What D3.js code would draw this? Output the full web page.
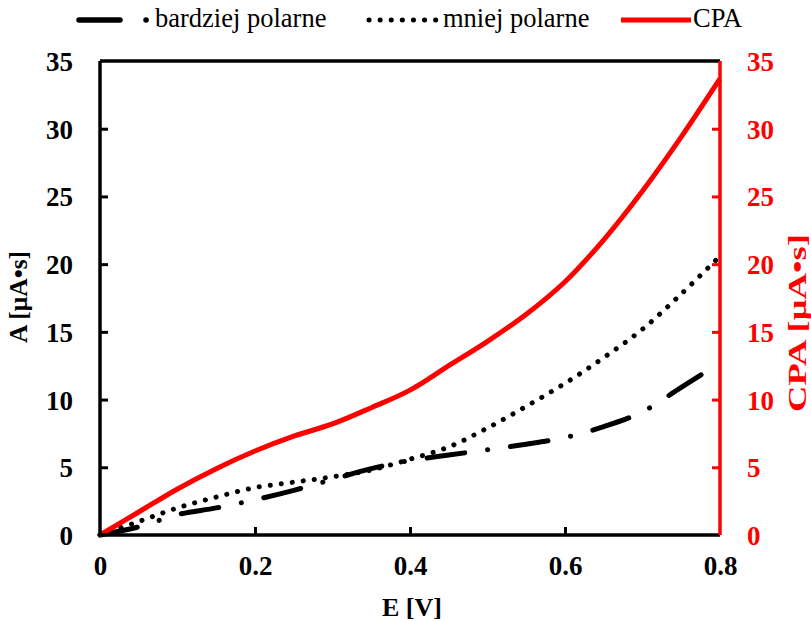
<!DOCTYPE html>
<html><head><meta charset="utf-8">
<script src="https://cdn.jsdelivr.net/npm/d3@7"></script>
<style>body{margin:0;background:#fff}svg{display:block}
svg text{font-family:"Liberation Serif","Times New Roman",Times,"DejaVu Serif",serif !important;}
</style>
</head><body>
<svg id="c" width="811" height="621"></svg>
<script>
const E = [0,0.05,0.1,0.15,0.2,0.25,0.3,0.35,0.4,0.45,0.5,0.55,0.6,0.65,0.7,0.75,0.8];
const bardziej = [0,0.6,1.5,2.0,2.6,3.3,4.1,4.9,5.5,5.9,6.3,6.7,7.2,8.0,9.1,10.9,12.7];
const mniej = [0,1.0,2.0,2.8,3.5,3.9,4.3,4.8,5.6,6.5,7.9,9.5,11.2,13.1,15.2,17.8,20.6];
const cpa = [0,1.7,3.4,4.9,6.2,7.3,8.2,9.4,10.7,12.5,14.3,16.3,18.7,21.8,25.4,29.4,33.7];
const xTicks = [0,0.2,0.4,0.6,0.8];
const yTicks = [0,5,10,15,20,25,30,35];
const seriesNames = ['bardziej polarne','mniej polarne','CPA'];

const svg = d3.select('#c');
const L=100,R=720,T=61,B=535;
const x = d3.scaleLinear().domain([0,0.8]).range([L,R]);
const y = d3.scaleLinear().domain([0,35]).range([B,T]);
const y2 = d3.scaleLinear().domain([0,35]).range([B,T]);

// top border
svg.append('line').attr('x1',L).attr('x2',R).attr('y1',T).attr('y2',T).attr('stroke','#000').attr('stroke-width',3.5);

const line = (arr,sc)=>d3.line().x((d,i)=>x(E[i])).y(d=>sc(d)).curve(d3.curveCatmullRom.alpha(0.5))(arr);

svg.append('path').attr('d',line(bardziej,y)).attr('fill','none').attr('stroke','#000')
  .attr('stroke-width',5).attr('stroke-linecap','round').attr('stroke-dasharray','38 23 0.1 23');
svg.append('path').attr('d',line(mniej,y)).attr('fill','none').attr('stroke','#000')
  .attr('stroke-width',5).attr('stroke-linecap','round').attr('stroke-dasharray','0.1 11');
svg.append('path').attr('d',line(cpa,y2)).attr('fill','none').attr('stroke','#ff0000')
  .attr('stroke-width',5);

// axes
const gx = svg.append('g').attr('transform',`translate(0,${B})`)
  .call(d3.axisBottom(x).tickValues(xTicks).tickSize(-8).tickPadding(21).tickFormat(d=>d===0?'0':d3.format('.1f')(d)));
const gy = svg.append('g').attr('transform',`translate(${L},0)`)
  .call(d3.axisLeft(y).tickValues(yTicks).tickSize(-8).tickPadding(27));
const gy2 = svg.append('g').attr('transform',`translate(${R},0)`)
  .call(d3.axisRight(y2).tickValues(yTicks).tickSize(-8).tickPadding(27));
[gx,gy,gy2].forEach(g=>{
  g.attr('font-family',null).attr('font-size',null);
  g.selectAll('path.domain').attr('stroke-width',3.5);
  g.selectAll('.tick line').attr('stroke-width',3);
  g.selectAll('text').style('font-size','27px').style('font-weight','bold');
});
gx.selectAll('path.domain').attr('d',`M${L},0H${R}`);
gy.selectAll('path.domain').attr('d',`M0,${B}V${T}`);
gy2.selectAll('path.domain').attr('d',`M0,${B}V${T}`);
gx.selectAll('.tick').filter(d=>d===0||d===0.8).select('line').remove();
gy.selectAll('.tick').filter(d=>d===0||d===35).select('line').remove();
gy2.selectAll('.tick').filter(d=>d===0||d===35).select('line').remove();
gx.selectAll('path.domain,.tick line').attr('stroke','#000');
gx.selectAll('text').attr('fill','#000');
gy.selectAll('path.domain,.tick line').attr('stroke','#000');
gy.selectAll('text').attr('fill','#000').attr('dy','0.35em');
gy2.selectAll('path.domain,.tick line').attr('stroke','#ff0000');
gy2.selectAll('text').attr('fill','#ff0000').attr('dy','0.35em');

// axis titles
svg.append('text').attr('x',412).attr('y',616).attr('text-anchor','middle')
  .style('font-size','26px').style('font-weight','bold').text('E [V]');
svg.append('text').attr('transform',`translate(27,297) rotate(-90)`).attr('text-anchor','middle')
  .style('font-size','25.5px').style('font-weight','bold').text('A [μA•s]');
svg.append('text').attr('transform',`translate(806,323) rotate(-90)`).attr('text-anchor','middle')
  .attr('textLength',178).attr('lengthAdjust','spacingAndGlyphs')
  .attr('fill','#ff0000').style('font-size','26px').style('font-weight','bold').text('CPA [μA•s]');

// legend
const lg = svg.append('g');
const ly = 20, ty = 27;
lg.append('path').attr('d',`M79,${ly}H120 M146,${ly}H146.1`).attr('stroke','#000').attr('stroke-width',5.5).attr('stroke-linecap','round');
lg.append('text').attr('x',155).attr('y',ty).style('font-size','26.5px').text(seriesNames[0]);
lg.append('path').attr('d',`M369,${ly}H436`).attr('stroke','#000').attr('stroke-width',5).attr('stroke-linecap','round').attr('stroke-dasharray','0.1 11');
lg.append('text').attr('x',443).attr('y',ty).style('font-size','26.5px').text(seriesNames[1]);
lg.append('path').attr('d',`M621,${ly}H691`).attr('stroke','#ff0000').attr('stroke-width',5);
lg.append('text').attr('x',693).attr('y',ty).style('font-size','26.5px').text(seriesNames[2]);
</script>
</body></html>
